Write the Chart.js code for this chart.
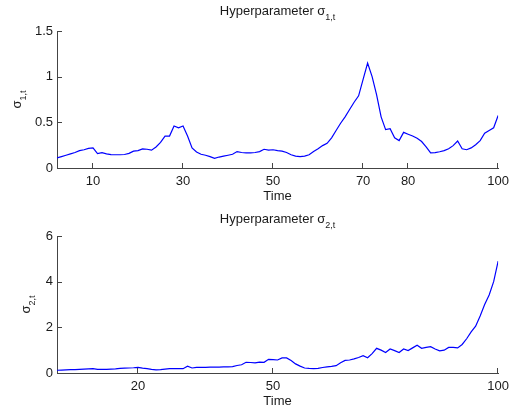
<!DOCTYPE html>
<html>
<head>
<meta charset="utf-8">
<script src="https://cdn.jsdelivr.net/npm/chart.js@4.4.1/dist/chart.umd.min.js"></script>
<style>
html, body { margin: 0; padding: 0; background: #fff; }
#wrap { position: relative; width: 515px; height: 411px; }
canvas { position: absolute; left: 0; }
</style>
</head>
<body>
<div id="wrap">
<canvas id="chart_top" width="515" height="205" style="top:0px"></canvas>
<canvas id="chart_bottom" width="515" height="206" style="top:205px"></canvas>
</div>
<script>
// time steps on the x axis
var timeSteps = [2, 3, 4, 5, 6, 7, 8, 9, 10, 11, 12, 13, 14, 15, 16, 17, 18, 19, 20, 21,
    22, 23, 24, 25, 26, 27, 28, 29, 30, 31, 32, 33, 34, 35, 36, 37, 38, 39, 40, 41,
    42, 43, 44, 45, 46, 47, 48, 49, 50, 51, 52, 53, 54, 55, 56, 57, 58, 59, 60, 61,
    62, 63, 64, 65, 66, 67, 68, 69, 70, 71, 72, 73, 74, 75, 76, 77, 78, 79, 80, 81,
    82, 83, 84, 85, 86, 87, 88, 89, 90, 91, 92, 93, 94, 95, 96, 97, 98, 99, 100];

// sigma_{1,t}
var sigma1 = [0.11, 0.125, 0.14, 0.155, 0.17, 0.19, 0.2, 0.215, 0.22, 0.157,
    0.168, 0.155, 0.146, 0.145, 0.145, 0.148, 0.16, 0.185, 0.19, 0.21,
    0.205, 0.195, 0.23, 0.28, 0.35, 0.35, 0.46, 0.44, 0.46, 0.35,
    0.22, 0.175, 0.15, 0.14, 0.125, 0.105, 0.12, 0.13, 0.14, 0.15,
    0.18, 0.17, 0.165, 0.165, 0.17, 0.18, 0.205, 0.195, 0.2, 0.19,
    0.185, 0.17, 0.145, 0.13, 0.125, 0.13, 0.145, 0.18, 0.21, 0.245,
    0.27, 0.33, 0.41, 0.49, 0.56, 0.64, 0.72, 0.79, 0.97, 1.15,
    1.0, 0.8, 0.56, 0.42, 0.43, 0.33, 0.3, 0.39, 0.37, 0.35,
    0.325, 0.29, 0.23, 0.165, 0.168, 0.178, 0.19, 0.21, 0.245, 0.295,
    0.21, 0.2, 0.22, 0.255, 0.3, 0.38, 0.41, 0.44, 0.575];

// sigma_{2,t}
var sigma2 = [0.12, 0.13, 0.14, 0.15, 0.15, 0.16, 0.17, 0.18, 0.19, 0.16,
    0.16, 0.16, 0.17, 0.18, 0.2, 0.21, 0.22, 0.23, 0.25, 0.21,
    0.19, 0.16, 0.14, 0.15, 0.17, 0.19, 0.19, 0.19, 0.19, 0.3,
    0.22, 0.25, 0.25, 0.25, 0.26, 0.26, 0.26, 0.27, 0.27, 0.28,
    0.33, 0.36, 0.47, 0.46, 0.44, 0.48, 0.47, 0.6, 0.59, 0.57,
    0.66, 0.66, 0.55, 0.4, 0.3, 0.22, 0.2, 0.19, 0.2, 0.24,
    0.27, 0.29, 0.32, 0.45, 0.55, 0.57, 0.62, 0.68, 0.76, 0.67,
    0.85, 1.08, 1.0, 0.9, 1.05, 0.98, 0.9, 1.05, 0.98, 1.1,
    1.22, 1.08, 1.12, 1.15, 1.05, 0.97, 1.0, 1.12, 1.12, 1.1,
    1.25, 1.5, 1.8, 2.05, 2.5, 3.0, 3.42, 4.0, 4.9];

var xTicksTop = [10, 30, 50, 70, 80, 100];
var yTicksTop = [0, 0.5, 1, 1.5];
var xTicksBottom = [20, 50, 100];
var yTicksBottom = [0, 2, 4, 6];

var fontFamily = '"Liberation Sans", Arial, Helvetica, sans-serif';
var textColor = '#1a1a1a';
var axisColor = '#444444';
var lineColor = '#0000ff';

function drawWithSub(ctx, main, sub, cx, baseY) {
    ctx.font = '13px ' + fontFamily;
    var w1 = ctx.measureText(main).width;
    ctx.font = '9px ' + fontFamily;
    var w2 = ctx.measureText(sub).width;
    var x0 = cx - (w1 + w2) / 2;
    ctx.textAlign = 'left';
    ctx.textBaseline = 'alphabetic';
    ctx.font = '13px ' + fontFamily;
    ctx.fillText(main, x0, baseY);
    ctx.font = '9px ' + fontFamily;
    ctx.fillText(sub, x0 + w1, baseY + 5);
}

// matlab look: inward ticks, title and labels with subscripts
var matlabAxes = {
    id: 'matlabAxes',
    afterDraw: function (chart, args, opts) {
        var ctx = chart.ctx, area = chart.chartArea;
        var xs = chart.scales.x, ys = chart.scales.y;
        ctx.save();
        ctx.strokeStyle = axisColor;
        ctx.lineWidth = 1;
        ctx.beginPath();
        xs.ticks.forEach(function (t) {
            var px = Math.round(xs.getPixelForValue(t.value)) - 0.5;
            ctx.moveTo(px, area.bottom);
            ctx.lineTo(px, area.bottom - 5);
        });
        ys.ticks.forEach(function (t) {
            var py = Math.round(ys.getPixelForValue(t.value)) + 0.5;
            ctx.moveTo(area.left, py);
            ctx.lineTo(area.left + 5, py);
        });
        ctx.stroke();

        ctx.fillStyle = textColor;
        var cx = (area.left + area.right) / 2;
        drawWithSub(ctx, 'Hyperparameter \u03c3', opts.sub, cx, opts.titleY);

        ctx.font = '13px ' + fontFamily;
        ctx.textAlign = 'center';
        ctx.textBaseline = 'alphabetic';
        ctx.fillText('Time', cx, opts.timeY);

        ctx.translate(opts.labelX, (area.top + area.bottom) / 2);
        ctx.rotate(-Math.PI / 2);
        drawWithSub(ctx, '\u03c3', opts.sub, 0, 0);
        ctx.restore();
    }
};

function makeChart(canvasId, values, xTicks, yTicks, yMax, sub, titleY, labelX) {
    var canvas = document.getElementById(canvasId);
    var h = canvas.height;
    var points = timeSteps.map(function (t, i) { return { x: t, y: values[i] }; });
    return new Chart(canvas.getContext('2d'), {
        type: 'line',
        data: {
            datasets: [{
                data: points,
                borderColor: lineColor,
                borderWidth: 1.2,
                pointRadius: 0,
                tension: 0,
                fill: false
            }]
        },
        options: {
            responsive: false,
            animation: false,
            devicePixelRatio: 1,
            layout: { padding: { top: 31, right: 12, left: 0, bottom: 0 }, autoPadding: false },
            plugins: {
                legend: { display: false },
                tooltip: { enabled: false },
                matlabAxes: { sub: sub, titleY: titleY, timeY: 200, labelX: labelX }
            },
            scales: {
                x: {
                    type: 'linear',
                    min: 2,
                    max: 100,
                    afterBuildTicks: function (s) { s.ticks = xTicks.map(function (v) { return { value: v }; }); },
                    afterFit: function (s) { s.height = h - 168; },
                    grid: { display: true, drawOnChartArea: false, drawTicks: false },
                    border: { display: true, color: axisColor, width: 1 },
                    ticks: {
                        padding: 6,
                        maxRotation: 0,
                        autoSkip: false,
                        color: textColor,
                        font: { family: fontFamily, size: 13 },
                        callback: function (v) { return String(v); }
                    }
                },
                y: {
                    min: 0,
                    max: yMax,
                    afterBuildTicks: function (s) { s.ticks = yTicks.map(function (v) { return { value: v }; }); },
                    afterFit: function (s) { s.width = 57; },
                    grid: { display: true, drawOnChartArea: false, drawTicks: false },
                    border: { display: true, color: axisColor, width: 1 },
                    ticks: {
                        padding: 4,
                        color: textColor,
                        font: { family: fontFamily, size: 13 },
                        callback: function (v) { return String(v); }
                    }
                }
            }
        },
        plugins: [matlabAxes]
    });
}

var chartTop = makeChart('chart_top', sigma1, xTicksTop, yTicksTop, 1.5, '1,t', 14.5, 21);
var chartBottom = makeChart('chart_bottom', sigma2, xTicksBottom, yTicksBottom, 6, '2,t', 18, 30);
</script>
</body>
</html>
